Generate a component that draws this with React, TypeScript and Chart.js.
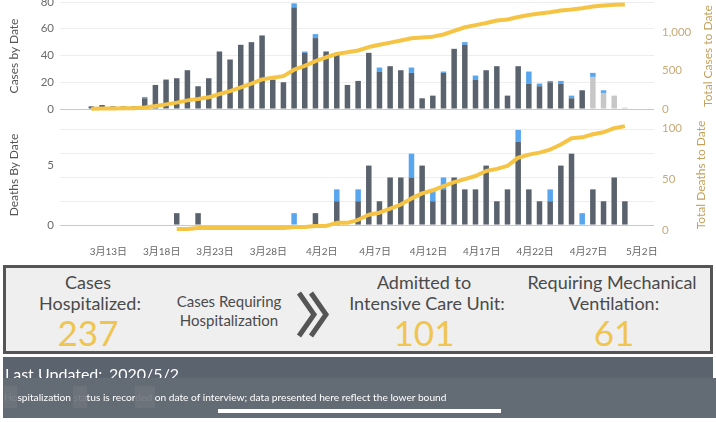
import React, { useEffect, useRef } from 'react';
import { Chart, registerables } from 'chart.js';

Chart.register(...registerables);

const FONT = 'Lato, "Noto Sans CJK SC", sans-serif';
Chart.defaults.font.family = FONT;

// ---------- data ----------
const dates = [
  '3/11', '3/12', '3/13', '3/14', '3/15', '3/16', '3/17', '3/18', '3/19', '3/20',
  '3/21', '3/22', '3/23', '3/24', '3/25', '3/26', '3/27', '3/28', '3/29', '3/30',
  '3/31', '4/1', '4/2', '4/3', '4/4', '4/5', '4/6', '4/7', '4/8', '4/9',
  '4/10', '4/11', '4/12', '4/13', '4/14', '4/15', '4/16', '4/17', '4/18', '4/19',
  '4/20', '4/21', '4/22', '4/23', '4/24', '4/25', '4/26', '4/27', '4/28', '4/29',
  '4/30',
];

const casesDark = [
  2, 3, 2, 2, 2, 8, 18, 22, 23, 29,
  17, 23, 43, 37, 48, 50, 55, 22, 20, 76,
  42, 53, 43, 42, 18, 21, 42, 28, 32, 29,
  27, 8, 10, 27, 45, 48, 22, 29, 32, 10,
  32, 19, 17, 20, 19, 8, 14, 0, 0, 0,
  0,
];
const casesHosp = [
  0, 0, 0, 0, 0, 1, 0, 0, 0, 0,
  0, 0, 0, 0, 0, 0, 0, 0, 0, 3,
  1, 3, 0, 0, 0, 0, 0, 3, 0, 0,
  4, 0, 0, 1, 0, 2, 3, 0, 0, 0,
  0, 9, 2, 1, 2, 2, 0, 3, 2, 0,
  0,
];
const casesRecent = [
  0, 0, 0, 0, 0, 0, 0, 0, 0, 0,
  0, 0, 0, 0, 0, 0, 0, 0, 0, 0,
  0, 0, 0, 0, 0, 0, 0, 0, 0, 0,
  0, 0, 0, 0, 0, 0, 0, 0, 0, 0,
  0, 0, 0, 0, 0, 0, 0, 24, 12, 10,
  1,
];
const totalCases = [
  2, 5, 7, 9, 11, 20, 38, 60, 83, 112,
  129, 152, 195, 232, 280, 330, 385, 407, 427, 510,
  560, 622, 672, 716, 736, 760, 805, 834, 862, 890,
  918, 928, 940, 968, 1015, 1062, 1090, 1118, 1150, 1162,
  1195, 1222, 1240, 1258, 1280, 1292, 1308, 1332, 1346, 1355,
  1358,
];

const deathsDark = [
  0, 0, 0, 0, 0, 0, 0, 0, 1, 0,
  1, 0, 0, 0, 0, 0, 0, 0, 0, 0,
  0, 1, 0, 2, 0, 2, 5, 2, 4, 4,
  4, 5, 2, 3, 4, 3, 3, 5, 2, 3,
  7, 3, 2, 2, 5, 6, 0, 3, 2, 4,
  2,
];
const deathsHosp = [
  0, 0, 0, 0, 0, 0, 0, 0, 0, 0,
  0, 0, 0, 0, 0, 0, 0, 0, 0, 1,
  0, 0, 0, 1, 0, 1, 0, 0, 0, 0,
  2, 0, 1, 1, 0, 0, 0, 0, 0, 0,
  1, 0, 0, 1, 0, 0, 1, 0, 0, 0,
  0,
];
const totalDeaths = [
  null, null, null, null, null, null, null, null, 1, 1,
  2, 2, 2, 2, 2, 2, 2, 2, 2, 3,
  3, 4, 4, 7, 7, 10, 15, 17, 21, 25,
  31, 36, 39, 43, 47, 50, 53, 58, 60, 63,
  71, 74, 76, 79, 84, 90, 91, 94, 96, 100,
  102,
];

const tickLabels = ['3月13日', '3月18日', '3月23日', '3月28日', '4月2日', '4月7日', '4月12日', '4月17日', '4月22日', '4月27日', '5月2日'];
const casesTicks = [0, 20, 40, 60, 80];
const totalCasesTicks = [0, 500, 1000];
const deathsGridTicks = [0, 2, 4, 5, 6, 8];
const deathsLabelTicks = [0, 5];
const totalDeathsTicks = [0, 50, 100];

// ---------- styling ----------
const DARK = '#59626d';
const BLUE = '#58a6ee';
const LIGHT = '#c7c7c7';
const YELLOW = '#f6c445';
const TAN_LABEL = '#c7aa78';
const TAN_TITLE = '#c4a05a';
const X_MIN = 8.06;
const X_MAX = 63.73;
const LABEL_SHIFT = 0.41;

const MONTH_OFFSET: Record<number, number> = { 3: 0, 4: 31, 5: 61 };
const dayNum = (s: string) => {
  const [m, d] = s.split('/').map(Number);
  return MONTH_OFFSET[m] + d;
};
const tickDay = (s: string) => {
  const m = s.match(/(\d+)月(\d+)日/)!;
  return MONTH_OFFSET[Number(m[1])] + Number(m[2]);
};
const xs = dates.map(dayNum);
const pts = (vals: (number | null)[]) => vals.map((v, i) => ({ x: xs[i], y: v }));
const barPts = (vals: number[]) => vals.map((v, i) => ({ x: xs[i], y: v === 0 ? null : v }));

const bar = (label: string, vals: number[], color: string) => ({
  type: 'bar', label, data: barPts(vals), backgroundColor: color, borderWidth: 0,
  barThickness: 5.5, stack: 's', xAxisID: 'x', yAxisID: 'y', order: 2, inflateAmount: 0,
});
const line = (label: string, vals: (number | null)[]) => ({
  type: 'line', label, data: pts(vals), borderColor: YELLOW, borderWidth: 4,
  pointRadius: 0, pointHoverRadius: 0, tension: 0, fill: false,
  xAxisID: 'x', yAxisID: 'y1', order: 0, clip: false, borderJoinStyle: 'round',
});

const xScale = (display: boolean) => ({
  type: 'linear', display, min: X_MIN, max: X_MAX, offset: false, stacked: true,
  grid: { display: false, drawTicks: false }, border: { display: false },
  afterBuildTicks: (s: any) => { s.ticks = tickLabels.map((l) => ({ value: tickDay(l) - LABEL_SHIFT })); },
  afterFit: (s: any) => { s.height = display ? 30 : 0; },
  ticks: {
    autoSkip: false, maxRotation: 0, minRotation: 0, padding: 15, color: '#666',
    font: { size: 10, family: FONT },
    callback: (_v: any, i: number) => tickLabels[i],
  },
});

const leftScale = (min: number, max: number, gridTicks: number[], labelTicks: number[] | null) => ({
  type: 'linear', position: 'left', min, max, stacked: true,
  border: { display: false },
  grid: {
    drawTicks: false, lineWidth: 1,
    color: (ctx: any) => {
      const v = ctx.tick && ctx.tick.value;
      if (v === 0) return '#c9c9c9';
      if (labelTicks && labelTicks.includes(v)) return 'rgba(0,0,0,0)';
      return '#eeeeee';
    },
  },
  afterBuildTicks: (s: any) => { s.ticks = gridTicks.map((v) => ({ value: v })); },
  afterFit: (s: any) => { s.width = 60; },
  ticks: {
    autoSkip: false, padding: 6, color: '#6b6b6b', font: { size: 11.5, family: FONT },
    callback: (v: any) => (labelTicks ? (labelTicks.includes(v) ? String(v) : '') : String(v)),
  },
});

const rightScale = (min: number, max: number, ticks: number[]) => ({
  type: 'linear', position: 'right', min, max,
  border: { display: false },
  grid: { display: false, drawTicks: false },
  afterBuildTicks: (s: any) => { s.ticks = ticks.map((v) => ({ value: v })); },
  afterFit: (s: any) => { s.width = 62; },
  ticks: {
    autoSkip: false, padding: 8, color: TAN_LABEL, font: { size: 11.5, family: FONT },
    callback: (v: any) => Number(v).toLocaleString('en-US'),
  },
});

const baseOptions = (padding: any, scales: any) => ({
  responsive: false, animation: false, devicePixelRatio: 1, events: [],
  layout: { padding },
  plugins: { legend: { display: false }, tooltip: { enabled: false }, title: { display: false } },
  scales,
});

const buildCasesConfig = () => ({
  type: 'bar',
  data: {
    datasets: [
      line('Total Cases to Date', totalCases),
      bar('Cases', casesDark, DARK),
      bar('Recent cases', casesRecent, LIGHT),
      bar('Hospitalized', casesHosp, BLUE),
    ],
  },
  options: baseOptions({ top: 16, bottom: 16, left: 0, right: 0 }, {
    x: xScale(false),
    y: leftScale(0, 80, casesTicks, null),
    y1: rightScale(0, 1390, totalCasesTicks),
  }),
});

const buildDeathsConfig = () => ({
  type: 'bar',
  data: {
    datasets: [
      line('Total Deaths to Date', totalDeaths),
      bar('Deaths', deathsDark, DARK),
      bar('Hospitalized deaths', deathsHosp, BLUE),
    ],
  },
  options: baseOptions({ top: 16, bottom: 0, left: 0, right: 0 }, {
    x: xScale(true),
    y: leftScale(-0.5, 9, deathsGridTicks, deathsLabelTicks),
    y1: rightScale(-1, 110, totalDeathsTicks),
  }),
});

function ChartCanvas({ top, height, build }: { top: number; height: number; build: () => any }) {
  const ref = useRef<HTMLCanvasElement>(null);
  useEffect(() => {
    const chart = new Chart(ref.current as HTMLCanvasElement, build());
    return () => chart.destroy();
  }, []);
  return (
    <canvas
      ref={ref}
      width={716}
      height={height}
      style={{ position: 'absolute', left: 0, top, width: 716, height, display: 'block' }}
    />
  );
}

const VTitle = ({ x, y, color, children }: any) => (
  <div
    style={{
      position: 'absolute', left: x, top: y, transform: 'translate(-50%, -50%) rotate(-90deg)',
      whiteSpace: 'nowrap', fontSize: 12, lineHeight: '14px', color,
    }}
  >
    {children}
  </div>
);

const CText = ({ x, y, size, color = '#4a4a4a', children }: any) => (
  <div
    style={{
      position: 'absolute', left: x, top: y, transform: 'translate(-50%, -50%)',
      whiteSpace: 'nowrap', fontSize: size, lineHeight: 1, color,
    }}
  >
    {children}
  </div>
);

const NUM_YELLOW = '#f0c54f';
const patch = { background: '#6c737b', color: 'rgba(255,255,255,0.12)', padding: '5px 0' };

export default function App() {
  return (
    <div
      style={{
        position: 'absolute', left: 0, top: 0, width: 716, height: 422, overflow: 'hidden',
        background: '#fff', fontFamily: FONT,
      }}
    >
      <ChartCanvas top={-14} height={139} build={buildCasesConfig} />
      <ChartCanvas top={102} height={159} build={buildDeathsConfig} />

      <VTitle x={14} y={56} color="#555">Cases by Date</VTitle>
      <VTitle x={708} y={56} color={TAN_TITLE}>Total Cases to Date</VTitle>
      <VTitle x={14} y={175} color="#555">Deaths By Date</VTitle>
      <VTitle x={701} y={175} color={TAN_TITLE}>Total Deaths to Date</VTitle>

      {/* summary box */}
      <div
        style={{
          position: 'absolute', left: 3, top: 265, width: 710, height: 89, boxSizing: 'border-box',
          border: '3px solid #555', background: '#efefef',
        }}
      />
      <CText x={88} y={282} size={18}>Cases</CText>
      <CText x={90} y={303} size={18}>Hospitalized:</CText>
      <CText x={88} y={332} size={35} color={NUM_YELLOW}>237</CText>

      <CText x={229} y={301} size={15}>Cases Requiring</CText>
      <CText x={229} y={320} size={15}>Hospitalization</CText>

      <svg width={40} height={52} style={{ position: 'absolute', left: 294, top: 288 }}>
        <polyline points="5,5 20,26.5 5,48" fill="none" stroke="#555" strokeWidth={5} />
        <polyline points="17,5 32,26.5 17,48" fill="none" stroke="#555" strokeWidth={5} />
      </svg>

      <CText x={424} y={282} size={18}>Admitted to</CText>
      <CText x={427} y={303} size={18}>Intensive Care Unit:</CText>
      <CText x={424} y={332} size={35} color={NUM_YELLOW}>101</CText>

      <CText x={612} y={282} size={18}>Requiring Mechanical</CText>
      <CText x={614} y={303} size={18}>Ventilation:</CText>
      <CText x={614} y={332} size={35} color={NUM_YELLOW}>61</CText>

      {/* footer panel */}
      <div style={{ position: 'absolute', left: 3, top: 357, width: 710, height: 26, background: '#5b636e' }} />
      <div style={{ position: 'absolute', left: 5, top: 366, fontSize: 16, lineHeight: '16px', color: '#fff', whiteSpace: 'nowrap' }}>
        Last Updated:
      </div>
      <div style={{ position: 'absolute', left: 109, top: 366, fontSize: 16, lineHeight: '16px', color: '#fff', whiteSpace: 'nowrap' }}>
        2020/5/2
      </div>
      <div style={{ position: 'absolute', left: 3, top: 378, width: 713, height: 40, background: '#636b75' }} />
      <div style={{ position: 'absolute', left: 4, top: 391, fontSize: 10.2, lineHeight: '12px', color: '#fff', whiteSpace: 'nowrap' }}>
        <span style={patch}>Ho</span>
        <span>spitalization </span>
        <span style={patch}>sta</span>
        <span>tus is recor</span>
        <span style={patch}>ded </span>
        <span>on date of interview; data presented here reflect the lower bound</span>
      </div>
      <div style={{ position: 'absolute', left: 218, top: 409, width: 283, height: 4, background: '#fff' }} />
    </div>
  );
}
